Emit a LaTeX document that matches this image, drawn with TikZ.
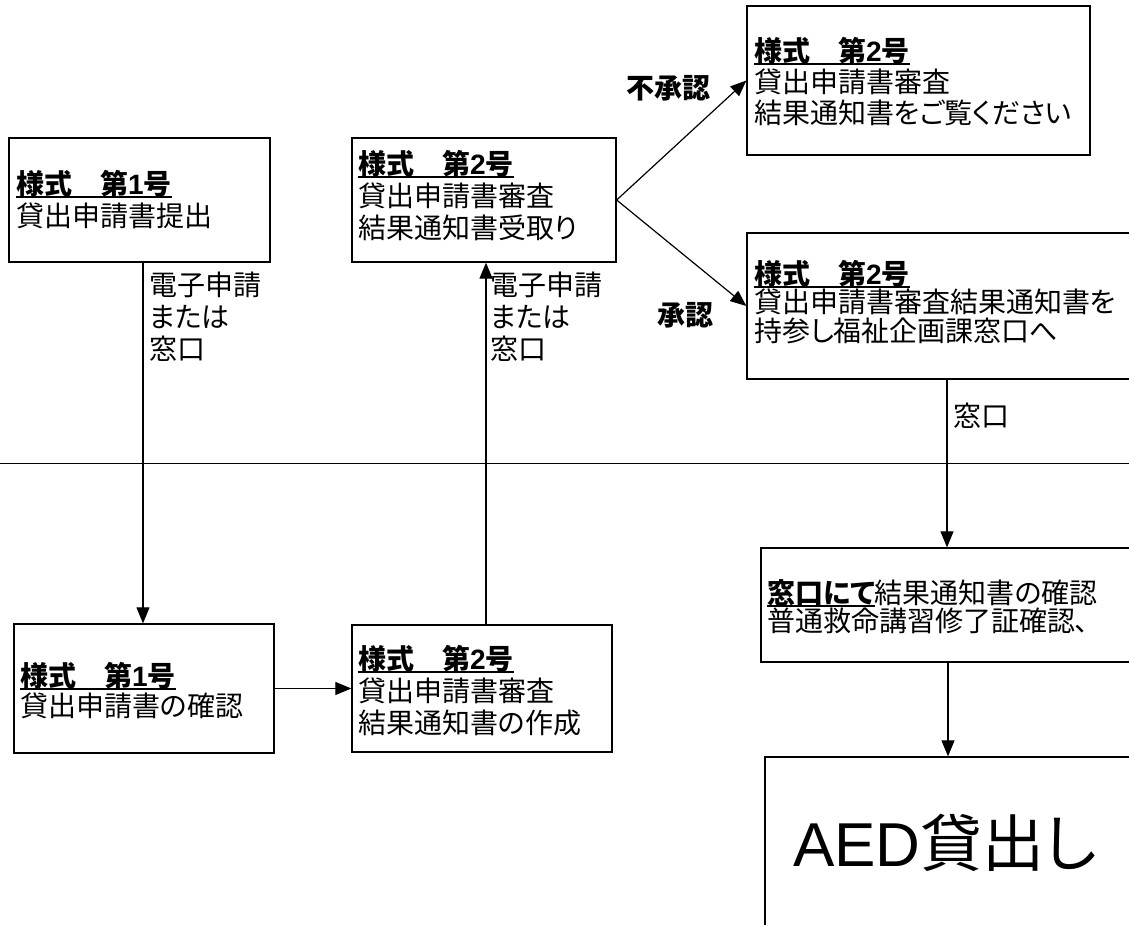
\documentclass[tikz,border=0pt]{standalone}
\usepackage{fontspec}
\setmainfont{Noto Sans CJK JP}[RawFeature=+palt]
\newfontfamily\latinfont{Liberation Sans}
\usetikzlibrary{arrows.meta}

\newcommand\formul[1]{\setbox0\hbox{\bfseries #1}\rlap{\rule[-3.5pt]{\wd0}{2pt}}\box0}

\begin{document}
\begin{tikzpicture}[x=1pt,y=-1pt,
	box/.style={draw,line width=1.3pt,inner sep=0pt},
	txt/.style={anchor=north west,align=left,inner sep=0pt,font=\fontsize{28}{#1}\selectfont},
	txt/.default=32,
	arr/.style={-{Triangle[length=16pt,width=13pt]},line width=1.2pt},
	lbl/.style={inner sep=0pt,font=\fontsize{28}{32}\selectfont\bfseries}]
	
	\useasboundingbox (0,0) rectangle (1129,925);
	
	% upper half
	\node[box,minimum width=261,minimum height=124] (form1sub) at (139.5,200) {};
	\node[box,minimum width=264,minimum height=124] (form2recv) at (484,200) {};
	\node[box,minimum width=343,minimum height=149] (reject) at (918.5,80.5) {};
	\node[box,minimum width=393,minimum height=146] (approve) at (943.5,306) {};
	
	\node[txt] (t1) at (16,170) {\formul{様式　第{\latinfont 1}号}\\貸出申請書提出};
	\node[txt] (t2) at (358,150) {\formul{様式　第{\latinfont 2}号}\\貸出申請書審査\\結果通知書受取り};
	\node[txt=31] (t3) at (754,37) {\formul{様式　第{\latinfont 2}号}\\貸出申請書審査\\結果通知書をご覧ください};
	\node[txt=28.5] (t4) at (754,260) {\formul{様式　第{\latinfont 2}号}\\貸出申請書審査結果通知書を\\持参し福祉企画課窓口へ};
	
	\draw (0,463) -- (1129,463);
	
	% lower half
	\node[box,minimum width=260,minimum height=129] (form1chk) at (144,688.5) {};
	\node[box,minimum width=260,minimum height=127] (form2make) at (482,688.5) {};
	\node[box,minimum width=379,minimum height=114] (counter) at (950.5,605) {};
	\node[box,minimum width=375,minimum height=178] (lend) at (952.5,846) {};
	
	\node[txt=30] (t5) at (20,662) {\formul{様式　第{\latinfont 1}号}\\貸出申請書の確認};
	\node[txt] (t6) at (358,645) {\formul{様式　第{\latinfont 2}号}\\貸出申請書審査\\結果通知書の作成};
	\node[txt=27] (t7) at (767,579) {\formul{窓口にて}結果通知書の確認\\普通救命講習修了証確認、};
	\node[inner sep=0pt,font=\fontsize{62}{70}\selectfont] (t8) at (945,843) {{\latinfont AED}貸出し};
	
	% connectors
	\draw[arr] (form1sub.south -| 143,0) -- (form1chk.north -| 143,0);
	\draw[arr] (form2make.north -| 486,0) -- (form2recv.south -| 486,0);
	\draw[arr] (form1chk) -- (form2make);
	\draw[arr] (form2recv.east) -- (reject.west);
	\draw[arr] (form2recv.east) -- (approve.west);
	\draw[arr] (approve.south -| 947,0) -- (counter.north -| 947,0);
	\draw[arr] (counter.south -| 948,0) -- (lend.north -| 948,0);
	
	\node[txt] (l1) at (149,272) {電子申請\\または\\窓口};
	\node[txt] (l2) at (490,272) {電子申請\\または\\窓口};
	\node[txt] (l3) at (953,403) {窓口};
	\node[lbl] (l4) at (668,88) {不承認};
	\node[lbl] (l5) at (685,315) {承認};
	
\end{tikzpicture}
\end{document}
